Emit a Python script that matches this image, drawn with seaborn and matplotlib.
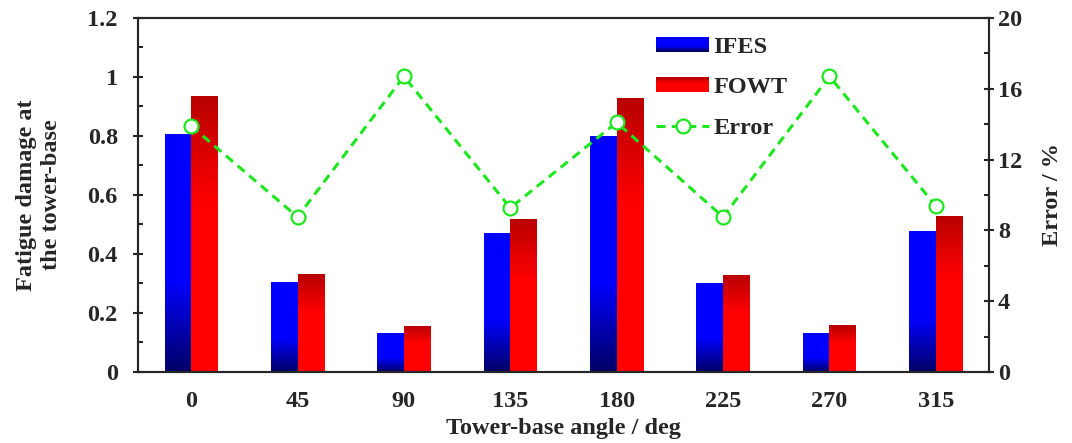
import numpy as np
import pandas as pd
import matplotlib
matplotlib.use("Agg")
import matplotlib.pyplot as plt
import seaborn as sns
from matplotlib.patches import Rectangle
from matplotlib.lines import Line2D
from matplotlib.legend_handler import HandlerBase

# ---- data ----
angles = ["0", "45", "90", "135", "180", "225", "270", "315"]
ifes = [0.807, 0.305, 0.132, 0.471, 0.800, 0.302, 0.132, 0.478]
fowt = [0.936, 0.332, 0.156, 0.519, 0.929, 0.329, 0.159, 0.529]
error = [13.9, 8.76, 16.7, 9.27, 14.1, 8.76, 16.7, 9.38]
series = ["IFES", "FOWT"]

FS = 17.5

sns.set_style("ticks")
plt.rcParams["font.family"] = ["Liberation Serif", "DejaVu Serif"]
plt.rcParams["font.weight"] = "bold"
plt.rcParams["axes.labelweight"] = "bold"
plt.rcParams["axes.linewidth"] = 1.5

df = pd.DataFrame({
    "angle": angles * 2,
    "damage": ifes + fowt,
    "model": [series[0]] * len(angles) + [series[1]] * len(angles),
})
err_df = pd.DataFrame({"angle": angles, "error": error})

fig = plt.figure(figsize=(10.72, 4.43), dpi=100)
ax = fig.add_axes([0.1287, 0.1603, 0.7939, 0.7991])

BLUE_DARK, BLUE = np.array([0.0, 0.0, 0.40]), np.array([0.0, 0.0, 1.0])
RED_DARK, RED = np.array([0.72, 0.0, 0.0]), np.array([1.0, 0.0, 0.0])

sns.barplot(data=df, x="angle", y="damage", hue="model", order=angles,
            hue_order=series, palette=["#0000FF", "#FF0000"], width=0.5,
            saturation=1, edgecolor="none", linewidth=0, ax=ax, legend=False)


def gradient_rgb(kind, n=256):
    t = np.linspace(0, 1, n)[:, None]  # 0 = bottom, 1 = top
    if kind == "blue":
        f = np.clip(t / 0.38, 0, 1)
        rgb = BLUE_DARK + (BLUE - BLUE_DARK) * f
    else:
        f = np.clip((1 - t) / 0.40, 0, 1)
        rgb = RED_DARK + (RED - RED_DARK) * f
    return rgb[:, None, :]


# shade each bar with a vertical gradient, clipped to the bar
for i, patch in enumerate(ax.patches):
    kind = "blue" if i < len(angles) else "red"
    x, y = patch.get_x(), patch.get_y()
    w, h = patch.get_width(), patch.get_height()
    im = ax.imshow(gradient_rgb(kind), extent=[x, x + w, y, y + h],
                   origin="lower", aspect="auto", zorder=patch.get_zorder(),
                   interpolation="bilinear")
    im.set_clip_path(patch)

ax.set_xlim(-0.5, len(angles) - 0.5)
ax.set_ylim(0, 1.2)
ax.set_yticks(np.arange(0, 1.21, 0.2))
ax.set_yticklabels(["0", "0.2", "0.4", "0.6", "0.8", "1", "1.2"])
ax.set_yticks(np.arange(0.1, 1.2, 0.2), minor=True)
ax.tick_params(axis="y", which="major", direction="inout", length=7,
               width=1.5, labelsize=FS, pad=11)
ax.tick_params(axis="y", which="minor", direction="in", length=3.5, width=1.5)
ax.tick_params(axis="x", which="both", length=0, labelsize=FS, pad=14)
for lab in ax.get_xticklabels() + ax.get_yticklabels():
    lab.set_fontweight("bold")
ax.set_xlabel("Tower-base angle / deg", fontsize=FS, fontweight="bold",
              labelpad=4)
ax.set_ylabel("Fatigue damage at\nthe tower-base", fontsize=FS,
              fontweight="bold", labelpad=18, linespacing=1.25)

# error line on the secondary axis
ax2 = ax.twinx()
GREEN = "#1EE61E"
sns.lineplot(data=err_df, x="angle", y="error", ax=ax2, color=GREEN,
             linewidth=2.2, linestyle=(0, (3, 2)), marker="o",
             markersize=10, markerfacecolor="white", markeredgecolor=GREEN,
             markeredgewidth=1.6, legend=False)
ax2.set_xlim(-0.5, len(angles) - 0.5)
ax2.set_ylim(0, 20)
ax2.set_yticks(np.arange(0, 21, 4))
ax2.set_yticks(np.arange(2, 20, 4), minor=True)
ax2.tick_params(axis="y", which="major", direction="inout", length=7,
                width=1.5, labelsize=FS, pad=3)
ax2.tick_params(axis="y", which="minor", direction="in", length=3.5, width=1.5)
for lab in ax2.get_yticklabels():
    lab.set_fontweight("bold")
ax2.set_ylabel("Error / %", fontsize=FS, fontweight="bold", labelpad=14)
ax2.set_xlabel("")
for sp in ax2.spines.values():
    sp.set_linewidth(1.5)


class GradientHandler(HandlerBase):
    def __init__(self, kind):
        super().__init__()
        self.kind = kind

    def create_artists(self, legend, orig_handle, xdescent, ydescent, width,
                       height, fontsize, trans):
        n = 12
        rgb = gradient_rgb(self.kind, n)[:, 0, :]
        arts = []
        for k in range(n):
            r = Rectangle((-xdescent, -ydescent + height * k / n), width,
                          height / n + 0.3, facecolor=rgb[k], edgecolor="none",
                          transform=trans)
            arts.append(r)
        return arts


h_blue = Rectangle((0, 0), 1, 1, color="blue")
h_red = Rectangle((0, 0), 1, 1, color="red")
h_err = Line2D([], [], color=GREEN, linewidth=2.2, linestyle=(0, (3, 2)),
               marker="o", markersize=10, markerfacecolor="white",
               markeredgecolor=GREEN, markeredgewidth=1.6)
leg = ax2.legend([h_blue, h_red, h_err], ["IFES", "FOWT", "Error"],
                 handler_map={h_blue: GradientHandler("blue"),
                              h_red: GradientHandler("red")},
                 loc="upper left", bbox_to_anchor=(0.592, 0.966),
                 bbox_transform=fig.transFigure, frameon=False,
                 prop={"size": FS, "weight": "bold"}, handlelength=2.14,
                 handleheight=0.54, handletextpad=0.2, labelspacing=0.8,
                 numpoints=1)

fig.savefig("out.png", dpi=100)
